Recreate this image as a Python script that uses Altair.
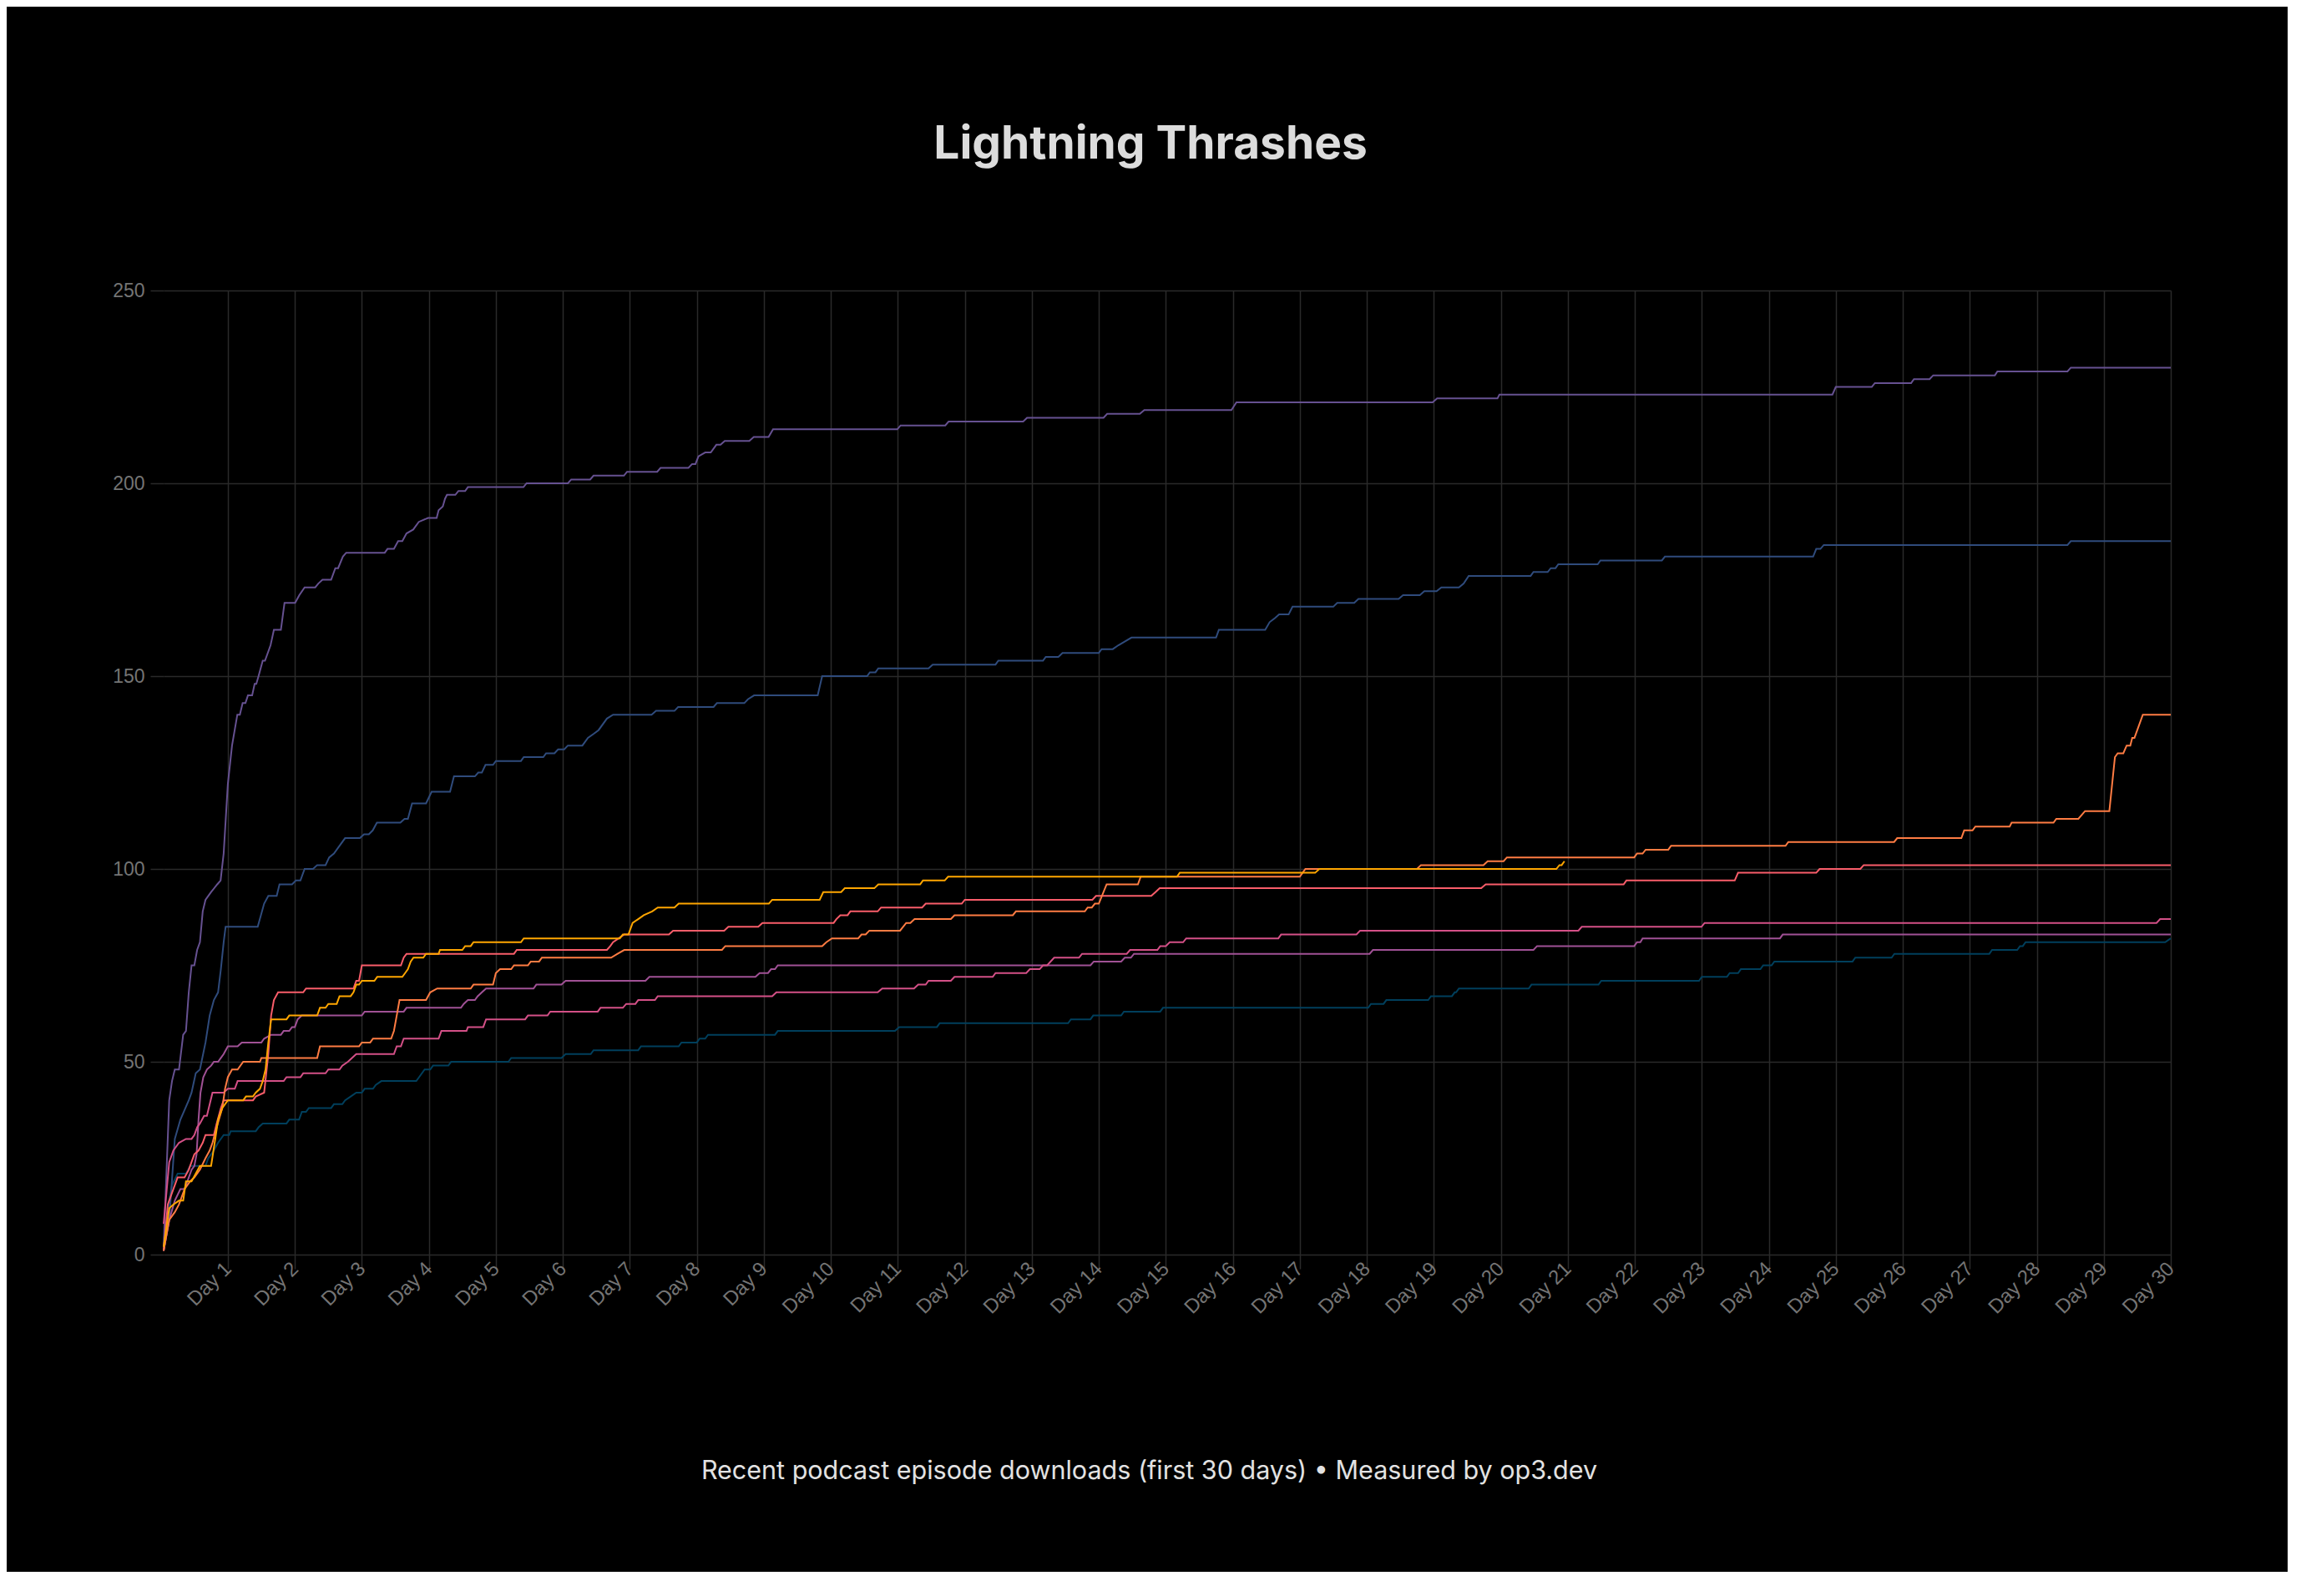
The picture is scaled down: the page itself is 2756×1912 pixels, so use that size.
import altair as alt
import pandas as pd

TITLE = "Lightning Thrashes"
FOOTER = "Recent podcast episode downloads (first 30 days) \u2022 Measured by op3.dev"

SERIES = ["Episode A", "Episode B", "Episode C", "Episode D",
          "Episode E", "Episode F", "Episode G", "Episode H"]
COLORS = ["#003f5c", "#2f4b7c", "#665191", "#a05195",
          "#d45087", "#f95d6a", "#ff7c43", "#ffa600"]

DAY_TICKS = [24 * d for d in range(1, 31)]
Y_TICKS = [0, 50, 100, 150, 200, 250]

# (hour, cumulative downloads) vertices
teal = [(1,2),(3,14),(4,18),(6,21),(9,21),(10.5,23),(16,23),(17,25),(19,27),(20.5,29),(22.5,31),(24.5,31),(25,32),(34,32),(35,33),(36.5,34),(45,34),(46,35),(49.5,35),(50.5,37),(52,37),(53,38),(61,38),(62,39),(65,39),(66,40),(68,41),(70,42),(72,42),(73,43),(76,43),(77,44),(79,45),(91.5,45),(92.5,46),(94.5,48),(96.5,48),(97.5,49),(103,49),(104,50),(124.5,50),(125.5,51),(143.5,51),(145,52),(154,52),(155,53),(171,53),(172,54),(185.5,54),(186.5,55),(192,55),(193,56),(195,56),(196,57),(220,57),(221,58),(263,58),(264.5,59),(278,59),(279,60),(325,60),(326,61),(333,61),(334,62),(344,62),(345,63),(358,63),(359,64),(432.5,64),(433.5,65),(438,65),(439,66),(454,66),(455,67),(462.5,67),(463.5,68),(464,68),(465,69),(490,69),(491,70),(515,70),(516,71),(551,71),(552,72),(561,72),(562,73),(565,73),(566,74),(573,74),(574,75),(577,75),(578,76),(606,76),(607,77),(620,77),(621,78),(655,78),(656,79),(665,79),(666,80),(667,80),(668,81),(718,81),(720,82)]

blue = [(1,1),(3,9),(5,30),(7,35),(10,40),(11,42),(12.5,47),(14,48),(16,55),(17.5,62),(19,66),(20.5,68),(21.5,74),(22.5,81),(23.2,85),(34.7,85),(37,91),(38.5,93),(41.5,93),(42.5,96),(47,96),(48.4,97),(50,97),(51.5,100),(54.5,100),(56,101),(59,101),(60.3,103),(62,104),(66,108),(71.3,108),(72.8,109),(74.5,109),(75.9,110),(77.4,112),(85.8,112),(87.3,113),(88.5,113),(90,117),(95,117),(97,120),(103.6,120),(105,124),(112.5,124),(113.7,125),(115,125),(116.3,127),(119,127),(120,128),(129,128),(130,129),(137,129),(138,130),(141,130),(142.3,131),(144.5,131),(145.8,132),(151,132),(153,134),(155,135),(156.8,136),(159.8,139),(162,140),(175.8,140),(177.4,141),(184,141),(185.3,142),(198,142),(199.2,143),(209,143),(210.3,144),(212.5,145),(235.3,145),(236.9,150),(253,150),(254,151),(256,151),(257,152),(275,152),(276.5,153),(299,153),(300,154),(316,154),(317,155),(321.5,155),(323,156),(336,156),(337,157),(341,157),(343,158),(345.4,159),(347.7,160),(378,160),(379,162),(395.6,162),(397.2,164),(399,165),(400.6,166),(404,166),(405.4,168),(420,168),(421.4,169),(427.5,169),(429,170),(443.4,170),(445,171),(451,171),(452.6,172),(457,172),(458.7,173),(465,173),(466.7,174),(468.5,176),(490.7,176),(491.7,177),(496.8,177),(497.9,178),(499.6,178),(500.6,179),(514.7,179),(515.7,180),(537.7,180),(538.8,181),(591.9,181),(593,183),(594.5,183),(595.7,184),(683,184),(684.2,185),(720,185)]

purple = [(1,2),(3,40),(4,45),(5,48),(6.5,48),(7.5,54),(8,57),(9,58),(10,68),(11,75),(12,75),(13,79),(14,81),(15,89),(16,92),(18,94),(20.2,96),(21.4,97),(22.5,104),(24,122),(25.5,132),(27.4,140),(28.3,140),(29.3,143),(30.3,143),(31.2,145),(32.7,145),(33.6,148),(34.2,148),(35,150),(36.5,154),(37.3,154),(39.3,158),(40.5,162),(43,162),(44.3,169),(48.1,169),(49.6,171),(51.5,173),(55.3,173),(56.4,174),(57.9,175),(61,175),(62.5,178),(63.5,178),(65.2,181),(66.4,182),(80.2,182),(81.2,183),(83.5,183),(85,185),(86.5,185),(88,187),(90.4,188),(92.4,190),(95.7,191),(98.8,191),(99.5,193),(101,194),(101.8,196),(102.5,197),(105.5,197),(106.6,198),(109,198),(110,199),(129.9,199),(131,200),(145.8,200),(147,201),(153.8,201),(155,202),(165.9,202),(167,203),(177.8,203),(179,204),(189,204),(190.3,205),(191.5,205),(192.6,207),(195,208),(197,208),(199,210),(200.5,210),(202,211),(210.8,211),(212.4,212),(217.7,212),(219.3,214),(263.8,214),(265,215),(281,215),(282.2,216),(308.9,216),(310.3,217),(337.7,217),(339,218),(350.7,218),(352.3,219),(383.5,219),(385.3,221),(455.6,221),(457.2,222),(478.8,222),(479.5,223),(598.8,223),(600,225),(612.9,225),(614,226),(627,226),(628,227),(633.6,227),(634.9,228),(657,228),(657.9,229),(683,229),(684.2,230),(720,230)]

magenta = [(1,1),(3,9),(5,14),(7,17),(8.5,17),(9.5,19),(11,22),(12,23),(12.8,26),(13.5,35),(14.2,42),(15.2,46),(16.5,48),(18,49),(19,50),(20.5,50),(21.5,51),(22.5,52),(24,54),(27.5,54),(29,55),(36,55),(37,56),(39.5,57),(43,57),(44,58),(46,58),(47,59),(48,59),(49,61),(50.5,62),(72,62),(73,63),(87,63),(88,64),(107.5,64),(108.5,65),(110,66),(112.5,66),(113.5,67),(115,68),(116.5,69),(133.5,69),(134.5,70),(143.5,70),(145,71),(173.6,71),(175,72),(213,72),(214.5,73),(217.5,73),(218.6,74),(220,74),(221,75),(333,75),(334.2,76),(344,76),(345.3,77),(347.5,77),(348.6,78),(433,78),(434.2,79),(491.7,79),(493,80),(527.8,80),(528.8,81),(530,81),(530.8,82),(580,82),(581,83),(720,83)]

pink = [(1,8),(3,24),(4.5,27),(6.5,29),(9,30),(11,30),(12,31),(13,33),(14,34),(15.5,36),(16.5,36),(18.5,42),(22.5,42),(24,43),(26.5,43),(27.5,45),(44,45),(45,46),(50,46),(51,47),(59,47),(60,48),(64,48),(65,49),(67,50),(70,52),(83.5,52),(84.5,54),(86,54),(87,56),(99.5,56),(100.5,58),(109.5,58),(110,59),(115.5,59),(116.5,61),(130.5,61),(131.5,62),(138.5,62),(139.5,63),(156.5,63),(157.5,64),(165.5,64),(166.7,65),(170,65),(171,66),(177,66),(178,67),(219,67),(220.5,68),(256.8,68),(258.4,69),(269.8,69),(271.3,70),(274,70),(275,71),(283,71),(284.3,72),(298,72),(299,73),(310,73),(311.3,74),(314.8,74),(316,75),(317.5,75),(320,77),(328.9,77),(330,78),(346,78),(347.2,79),(357,79),(358,80),(360,80),(361.4,81),(366.2,81),(367.3,82),(400.3,82),(401.3,83),(428.3,83),(429.6,84),(507.8,84),(509,85),(551.9,85),(553,86),(714.9,86),(716.2,87),(720,87)]

red = [(1,1),(2.5,13),(4.5,17),(6,20),(8.5,20),(10,22),(12,26),(13.5,27),(15,29),(16,31),(19,31),(20,34),(21.5,38),(22.5,40),(33,40),(34,41),(37,42),(38.5,52),(39.5,62),(40.5,66),(42,68),(51,68),(52,69),(69,69),(70,71),(71,71),(72,75),(86,75),(87,77),(88,78),(126.5,78),(127.5,79),(159.8,79),(161,80),(162,81),(164,82),(166,83),(182,83),(183.5,84),(201.8,84),(203.3,85),(214,85),(215.5,86),(241,86),(242,87),(243.4,88),(246,88),(247,89),(256.8,89),(258,90),(272.7,90),(274,91),(286.9,91),(288,92),(333.7,92),(335,93),(354.8,93),(356.3,94),(357.8,95),(473,95),(474.6,96),(524,96),(525,97),(563.8,97),(565,99),(593,99),(594.2,100),(608.8,100),(610,101),(720,101)]

orange = [(1,1),(3,9),(5,11),(6.5,13),(8.5,17),(10.5,19),(12,20),(14,22),(16,25),(17.5,27),(18.5,29),(20,33),(22,38),(23,43),(24,46),(25.5,48),(27.5,48),(29.5,50),(35.5,50),(36,51),(56,51),(57,54),(71,54),(72,55),(75,55),(76,56),(82.5,56),(83.5,58),(84.5,62),(85.5,66),(95,66),(96.5,68),(99,69),(111,69),(112,70),(119,70),(120,73),(121.5,74),(125.5,74),(126.5,75),(131.5,75),(132.5,76),(135.5,76),(136.5,77),(161.3,77),(163.6,78),(166,79),(201,79),(202.2,80),(236.9,80),(238.4,81),(240.4,82),(249.8,82),(251,83),(252.5,83),(253.8,84),(264.8,84),(267,86),(268.5,86),(270,87),(283,87),(284.3,88),(305.2,88),(306.3,89),(331,89),(332,90),(333.5,90),(334.6,91),(336,91),(338.8,96),(350,96),(351,98),(408,98),(409,99),(410,100),(450,100),(451.4,101),(473.8,101),(475.3,102),(481,102),(482.2,103),(527.8,103),(528.8,104),(530.8,104),(531.9,105),(540,105),(541,106),(582,106),(583,107),(620.9,107),(622,108),(645,108),(646,110),(649,110),(650,111),(662.3,111),(663,112),(678,112),(679,113),(686.9,113),(689.3,115),(698,115),(700,129),(701,130),(703,130),(704.2,132),(705.5,132),(706.2,134),(707,134),(710,140),(720,140)]

yellow = [(1,2),(3,12),(4.5,13),(6.5,14),(8,14),(9,19),(11,19),(12.5,21),(14,23),(18,23),(19.5,30),(20.5,35),(21.5,37),(22,38),(24,40),(29.5,40),(30.5,41),(33,41),(34,42),(35.5,43),(36.5,45),(37.5,48),(38.5,55),(39.5,61),(45,61),(46,62),(56,62),(57,64),(59,64),(60,65),(63,65),(64,67),(68,67),(69,68),(70,70),(71,70),(72,71),(76.5,71),(77.5,72),(86.5,72),(87.5,73),(88.5,74),(89.5,76),(90.5,77),(94,77),(95,78),(99.5,78),(100,79),(108,79),(109,80),(111,80),(112,81),(129,81),(130,82),(164.4,82),(165.5,83),(167.5,83),(169,86),(171,87),(173,88),(176,89),(178,90),(184,90),(185.5,91),(217.8,91),(219,92),(236,92),(237.3,94),(243.7,94),(245,95),(255.6,95),(257,96),(272,96),(273,97),(280.8,97),(282,98),(364,98),(365,99),(413.5,99),(415,100),(499.9,100),(501,101),(501.8,101),(502.8,102)]

ALL = [teal, blue, purple, magenta, pink, red, orange, yellow]

rows = []
for name, pts in zip(SERIES, ALL):
    for i, (h, v) in enumerate(pts):
        rows.append({"series": name, "hour": h, "value": v, "idx": i})
df = pd.DataFrame(rows)

GRID = "#2a2a2a"
LABEL = "#747474"

x_axis = alt.Axis(
    values=DAY_TICKS,
    labelExpr="'Day ' + round(datum.value / 24)",
    labelAngle=315, labelAlign="right", labelBaseline="middle",
    labelFont="Liberation Sans", labelFontSize=24, labelColor=LABEL,
    labelPadding=-4, labelOverlap=False, labelFlush=False, labelBound=False,
    tickSize=17, tickColor=GRID, tickWidth=1.5,
    grid=True, gridColor=GRID, gridWidth=1.5, domain=False,
    title=FOOTER, titleFont="Inter", titleFontSize=30.5, titleFontWeight="normal",
    titleColor="#e2e2e2", titleX=1180, titleY=268, titleAlign="center",
    titleBaseline="alphabetic", titleAngle=0,
)
y_axis = alt.Axis(
    values=Y_TICKS,
    labelFont="Liberation Sans", labelFontSize=23, labelColor=LABEL,
    labelPadding=7, tickSize=16, tickColor=GRID, tickWidth=1.5,
    grid=True, gridColor=GRID, gridWidth=1.5, domain=False, title="",
)

chart = alt.Chart(df).mark_line(strokeWidth=2, interpolate="linear").encode(
    x=alt.X("hour:Q", scale=alt.Scale(domain=[1, 720], nice=False, zero=False), axis=x_axis),
    y=alt.Y("value:Q", scale=alt.Scale(domain=[0, 250], nice=False), axis=y_axis),
    color=alt.Color("series:N", scale=alt.Scale(domain=SERIES, range=COLORS), legend=None),
    order=alt.Order("idx:Q"),
).properties(
    width=2404, height=1155,
    padding={"left": 188, "top": 340, "right": 140, "bottom": 380},
    autosize=alt.AutoSizeParams(type="none"),
    background="#000000",
    title=alt.TitleParams(
        text=TITLE, font="Inter", fontSize=55, fontWeight="bold", color="#dcdcdc",
        anchor="middle", frame="group", baseline="alphabetic", offset=92, dx=-20,
    ),
).configure_view(stroke="transparent")

chart.save("out.html", embed_options={"renderer": "svg", "actions": False})
